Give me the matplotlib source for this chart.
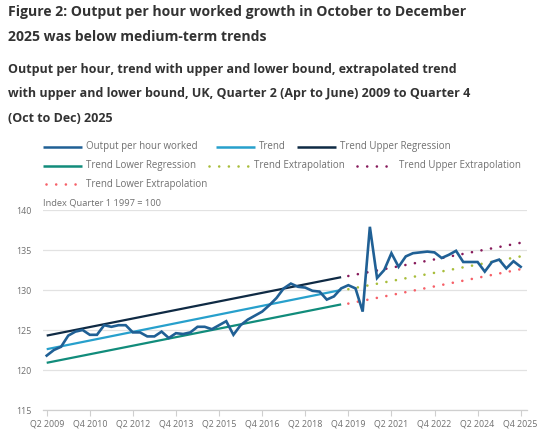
import matplotlib
matplotlib.use("Agg")
import matplotlib.pyplot as plt
from matplotlib.lines import Line2D

# ---------------- data ----------------
output_per_hour = [
    121.8, 122.5, 122.9, 124.3, 124.8, 125.0, 124.4, 124.4, 125.6, 125.4,
    125.6, 125.6, 124.7, 124.7, 124.2, 124.2, 124.8, 124.0, 124.6, 124.5,
    124.7, 125.4, 125.4, 125.1, 125.6, 126.1, 124.4, 125.6, 126.3, 126.8,
    127.3, 128.1, 129.0, 130.2, 130.8, 130.4, 130.3, 129.9, 129.8, 128.8,
    129.2, 130.2, 130.6, 130.2, 127.3, 137.9, 131.5, 132.5, 134.6, 132.9,
    134.2, 134.6, 134.7, 134.8, 134.7, 134.0, 134.4, 134.9, 133.5, 133.5,
    133.5, 132.3, 133.5, 133.8, 132.7, 133.6, 132.9,
]
# regression lines (straight): [start index, end index], [start value, end value]
reg_idx = [0, 41]
trend_vals = [122.6, 130.0]
upper_reg_vals = [124.3, 131.6]
lower_reg_vals = [120.9, 128.2]
# extrapolations
ext_idx = [42, 66]
trend_ext_vals = [130.1, 134.2]
upper_ext_vals = [131.75, 135.9]
lower_ext_vals = [128.3, 132.6]

tick_idx = [0, 6, 12, 18, 24, 30, 36, 42, 48, 54, 60, 66]
tick_labels = ["Q2 2009", "Q4 2010", "Q2 2012", "Q4 2013", "Q2 2015", "Q4 2016",
               "Q2 2018", "Q4 2019", "Q2 2021", "Q4 2022", "Q2 2024", "Q4 2025"]
y_ticks = [115, 120, 125, 130, 135, 140]

# ---------------- style ----------------
W, H = 550, 442
FONT = "Open Sans"
C_OUT = "#206095"
C_TREND = "#27a0cc"
C_UPPER = "#0f2a44"
C_LOWER = "#118c7b"
C_TEXT_EXT = "#a8bd3a"
C_UP_EXT = "#871a5b"
C_LO_EXT = "#f66068"
GRID = "#e2e2e2"
TXT = "#707070"

fig = plt.figure(figsize=(W / 100, H / 100), dpi=100)
fig.patch.set_facecolor("white")

def fx(px):
    return px / W

def fy(py):
    return 1 - py / H

ax_l, ax_r, ax_t, ax_b = 42.7, 527, 210, 410
ax = fig.add_axes([fx(ax_l), fy(ax_b), fx(ax_r - ax_l), (ax_b - ax_t) / H])

x_out = list(range(len(output_per_hour)))
dot = (0, (0.01, 3.66))

ax.plot(reg_idx, upper_reg_vals, color=C_UPPER, lw=1.6, solid_capstyle="butt", zorder=3)
ax.plot(reg_idx, trend_vals, color=C_TREND, lw=1.6, solid_capstyle="butt", zorder=3)
ax.plot(reg_idx, lower_reg_vals, color=C_LOWER, lw=1.6, solid_capstyle="butt", zorder=3)
ax.plot(ext_idx, trend_ext_vals, color=C_TEXT_EXT, lw=1.9, linestyle=dot,
        dash_capstyle="round", zorder=3)
ax.plot(ext_idx, upper_ext_vals, color=C_UP_EXT, lw=1.9, linestyle=dot,
        dash_capstyle="round", zorder=3)
ax.plot(ext_idx, lower_ext_vals, color=C_LO_EXT, lw=1.9, linestyle=dot,
        dash_capstyle="round", zorder=3)
ax.plot(x_out, output_per_hour, color=C_OUT, lw=1.9, zorder=4,
        solid_joinstyle="miter")

ax.set_xlim(-0.557, 66.88)
ax.set_ylim(115, 140)

for s in ["top", "right", "left"]:
    ax.spines[s].set_visible(False)
ax.spines["bottom"].set_color("#cfcfcf")
ax.spines["bottom"].set_linewidth(0.9)

ax.set_yticks(y_ticks)
ax.set_yticklabels([str(v) for v in y_ticks])
ax.yaxis.grid(True, color=GRID, lw=0.9)
ax.set_axisbelow(True)
ax.tick_params(axis="y", length=0, pad=8, labelsize=6.4, labelcolor=TXT)
for lab in ax.get_yticklabels():
    lab.set_fontfamily(FONT)

ax.set_xticks(tick_idx)
ax.set_xticklabels(tick_labels)
ax.tick_params(axis="x", length=4, width=0.8, color="#cfcfcf", pad=3,
               labelsize=6.4, labelcolor=TXT)
for lab in ax.get_xticklabels():
    lab.set_fontfamily(FONT)

# ---------------- titles ----------------
TITLE_C = "#333333"
fig.text(fx(8), fy(12), "Figure 2: Output per hour worked growth in October to December",
         fontsize=10.1, fontweight="bold", family=FONT, color=TITLE_C, va="center", ha="left")
fig.text(fx(8), fy(37), "2025 was below medium-term trends",
         fontsize=10.1, fontweight="bold", family=FONT, color=TITLE_C, va="center", ha="left")
sub = ["Output per hour, trend with upper and lower bound, extrapolated trend",
       "with upper and lower bound, UK, Quarter 2 (Apr to June) 2009 to Quarter 4",
       "(Oct to Dec) 2025"]
for i, line in enumerate(sub):
    fig.text(fx(8), fy(70 + 24 * i), line, fontsize=9.0, fontweight="bold",
             family=FONT, color=TITLE_C, va="center", ha="left")

fig.text(fx(43), fy(203), "Index Quarter 1 1997 = 100", fontsize=6.7, family=FONT,
         color=TXT, va="center", ha="left")

# ---------------- legend ----------------
legend_items = [
    (147, 43, 82, 86, "Output per hour worked", C_OUT, "-"),
    (147, 216, 255, 259, "Trend", C_TREND, "-"),
    (147, 297, 336, 340, "Trend Upper Regression", C_UPPER, "-"),
    (165.5, 43, 82, 86, "Trend Lower Regression", C_LOWER, "-"),
    (165.5, 209, 248, 254, "Trend Extrapolation", C_TEXT_EXT, ":"),
    (165.5, 357, 393, 399, "Trend Upper Extrapolation", C_UP_EXT, ":"),
    (184, 46, 82, 86, "Trend Lower Extrapolation", C_LO_EXT, ":"),
]
for (py, xa, xb, xt, label, col, ls) in legend_items:
    if ls == "-":
        ln = Line2D([fx(xa), fx(xb)], [fy(py), fy(py)], color=col, lw=1.8,
                    transform=fig.transFigure, solid_capstyle="butt")
    else:
        ln = Line2D([fx(xa), fx(xb)], [fy(py), fy(py)], color=col, lw=1.9,
                    linestyle=dot, dash_capstyle="round", transform=fig.transFigure)
    fig.add_artist(ln)
    fig.text(fx(xt), fy(py), label, fontsize=7.0, family=FONT, color=TXT,
             va="center", ha="left")

fig.savefig("out.png", dpi=100, facecolor="white")
